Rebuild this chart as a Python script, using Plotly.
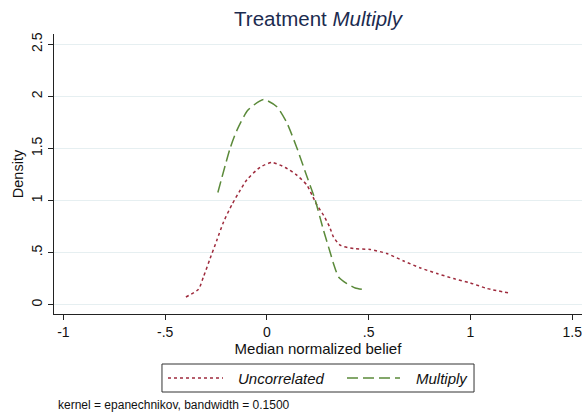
import plotly.graph_objects as go

# Kernel density estimates of the median normalized belief
uncorr_x = [-0.398, -0.336, -0.312, -0.279, -0.246, -0.213, -0.172, -0.131, -0.098,
            -0.033, 0.025, 0.09, 0.147, 0.197, 0.222, 0.246, 0.278, 0.308, 0.327,
            0.36, 0.426, 0.508, 0.59, 0.672, 0.754, 0.836, 0.917, 0.999, 1.082, 1.196]
uncorr_y = [0.073, 0.147, 0.265, 0.442, 0.618, 0.794, 0.96, 1.10, 1.20,
            1.32, 1.365, 1.317, 1.243, 1.147, 1.05, 0.955, 0.859, 0.746, 0.65,
            0.57, 0.538, 0.529, 0.49, 0.419, 0.352, 0.298, 0.25, 0.208, 0.154, 0.109]

mult_x = [-0.241, -0.18, -0.147, -0.093, -0.017, 0.049, 0.098, 0.147, 0.197, 0.235,
          0.278, 0.311, 0.327, 0.352, 0.393, 0.434, 0.467]
mult_y = [1.077, 1.506, 1.676, 1.868, 1.97, 1.9, 1.746, 1.506, 1.227, 1.02,
          0.714, 0.5, 0.394, 0.265, 0.202, 0.16, 0.147]

series_names = ["Uncorrelated", "Multiply"]

x_ticks = [-1, -0.5, 0, 0.5, 1, 1.5]
x_tick_labels = ["-1", "-.5", "0", ".5", "1", "1.5"]
y_ticks = [0, 0.5, 1, 1.5, 2, 2.5]
y_tick_labels = ["0", ".5", "1", "1.5", "2", "2.5"]

RED = "#9e2a3c"
GREEN = "#5b8a3a"
RED_DASH = "3px,3px"
GREEN_DASH = "11px,5px"
FONT = "Liberation Sans, Arial, sans-serif"

fig = go.Figure()
fig.add_trace(go.Scatter(
    x=uncorr_x, y=uncorr_y, mode="lines", name=series_names[0], showlegend=False,
    line=dict(color=RED, width=1.5, dash=RED_DASH, shape="spline", smoothing=0.6),
))
fig.add_trace(go.Scatter(
    x=mult_x, y=mult_y, mode="lines", name=series_names[1], showlegend=False,
    line=dict(color=GREEN, width=1.5, dash=GREEN_DASH, shape="spline", smoothing=0.6),
))

# Legend box below the plot, with long line samples
legend_y = -0.2286
shapes = [
    dict(type="rect", xref="paper", yref="paper", x0=0.2045, x1=0.7955,
         y0=-0.2786, y1=-0.1786, line=dict(color="#333333", width=1)),
    dict(type="line", xref="paper", yref="paper", x0=0.2159, x1=0.3201,
         y0=legend_y, y1=legend_y, line=dict(color=RED, width=1.5, dash=RED_DASH)),
    dict(type="line", xref="paper", yref="paper", x0=0.5549, x1=0.6553,
         y0=legend_y, y1=legend_y, line=dict(color=GREEN, width=1.5, dash=GREEN_DASH)),
]
annotations = [
    dict(text=f"<i>{series_names[0]}</i>", xref="paper", yref="paper", x=0.3447, y=legend_y,
         xanchor="left", yanchor="middle", showarrow=False, font=dict(size=15)),
    dict(text=f"<i>{series_names[1]}</i>", xref="paper", yref="paper", x=0.6818, y=legend_y,
         xanchor="left", yanchor="middle", showarrow=False, font=dict(size=15)),
    dict(text="kernel = epanechnikov, bandwidth = 0.1500",
         xref="paper", yref="paper", x=0.004, y=-0.325, xanchor="left", yanchor="middle",
         showarrow=False, font=dict(size=12, color="#111111")),
]

fig.update_layout(
    width=582, height=412,
    margin=dict(l=54, r=0, t=34, b=98),
    paper_bgcolor="white", plot_bgcolor="white",
    font=dict(family=FONT, size=12, color="#111111"),
    title=dict(text="Treatment <i>Multiply</i>", x=0.5, xref="paper",
               y=1 - 19 / 412, yref="container", yanchor="middle", xanchor="center",
               font=dict(size=20.5, color="#1c2b4f")),
    xaxis=dict(
        range=[-1.046, 1.548], tickmode="array", tickvals=x_ticks, ticktext=x_tick_labels,
        showgrid=False, zeroline=False, showline=True, linecolor="#222222", linewidth=1,
        ticks="outside", ticklen=5, tickcolor="#222222", ticklabeloverflow="allow",
        title=dict(text="Median normalized belief", standoff=3, font=dict(size=15)),
        tickfont=dict(size=14),
    ),
    yaxis=dict(
        range=[-0.0904, 2.599], tickmode="array", tickvals=y_ticks, ticktext=y_tick_labels,
        showgrid=True, gridcolor="#e6eff1", gridwidth=1, zeroline=False,
        showline=True, linecolor="#222222", linewidth=1,
        ticks="outside", ticklen=5, tickcolor="#222222", tickangle=-90,
        title=dict(text="Density", standoff=2, font=dict(size=14.5)),
        tickfont=dict(size=14),
    ),
    shapes=shapes,
    annotations=annotations,
)

fig.write_html("out.html")
